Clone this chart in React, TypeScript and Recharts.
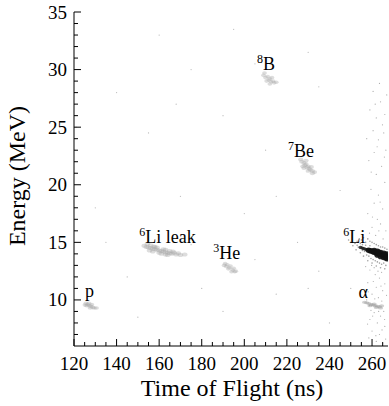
import { ScatterChart, Scatter, XAxis, YAxis } from "recharts";

const FONT = "'Liberation Serif', 'Times New Roman', serif";

// axis ticks (major ones get a label)
const xTicks = [120, 125, 130, 135, 140, 145, 150, 155, 160, 165, 170, 175, 180, 185, 190, 195, 200, 205, 210, 215, 220, 225, 230, 235, 240, 245, 250, 255, 260, 265];
const yTicks = [7, 8, 9, 10, 11, 12, 13, 14, 15, 16, 17, 18, 19, 20, 21, 22, 23, 24, 25, 26, 27, 28, 29, 30, 31, 32, 33, 34, 35];

// clusters, [tof ns, energy MeV]
const protons = [[125.6, 9.7], [126.4, 9.6], [127.2, 9.5], [128, 9.45], [128.8, 9.35], [127, 9.7], [129.5, 9.3], [126, 9.5], [128.3, 9.6], [127.6, 9.3], [130.5, 9.3], [125.2, 9.55]];
const li6Leak = [[153, 14.7], [154, 14.6], [155, 14.55], [156, 14.5], [157, 14.45], [158, 14.4], [159, 14.35], [160, 14.3], [161, 14.25], [162, 14.2], [163, 14.15], [164, 14.1], [165, 14.05], [166, 14.0], [168, 13.95], [170, 13.9], [156, 14.75], [158, 14.6], [160, 14.1], [162, 14.4], [163, 13.95], [165, 14.25], [167, 14.1], [159, 14.55], [155.5, 14.3], [161, 14.0], [157, 14.2], [164, 13.9], [166.5, 14.2], [169, 14.05], [172, 13.95], [154.5, 14.85], [157.5, 14.65], [163, 14.35]];
const he3 = [[190.5, 13.0], [191.5, 12.9], [192, 13.05], [193, 12.8], [193.5, 12.95], [194.5, 12.6], [195, 12.75], [196, 12.5], [192.5, 12.7], [195.5, 12.45], [191, 13.15], [194, 12.45]];
const b8 = [[209, 29.5], [210, 29.3], [211, 29.4], [211.5, 29.1], [212, 29.2], [212.5, 28.95], [213.5, 29.0], [214, 28.85], [210.5, 29.0], [215, 28.9], [212, 28.75], [209.5, 29.7], [213, 29.3]];
const be7 = [[227, 22.0], [228, 21.9], [228.5, 21.7], [229, 21.8], [229.5, 21.5], [230, 21.6], [230.5, 21.4], [231, 21.3], [232, 21.2], [227.5, 21.6], [231.5, 21.55], [233, 21.1], [229, 22.1], [226.5, 22.2], [230, 21.2], [232, 21.0], [228, 21.45]];
const alphas = [[256.5, 9.8], [257.5, 9.75], [258.5, 9.7], [259.5, 9.6], [260.5, 9.55], [261.5, 9.5], [262.5, 9.45], [263.5, 9.4], [259, 9.5], [261, 9.65], [264, 9.3], [262, 9.35], [264.5, 9.5]];
const li6Tip = [[254.6, 14.56], [255.4, 14.5], [256.2, 14.45], [257, 14.4], [257.7, 14.36]];
const li6Core = [[258.4, 14.32], [259.2, 14.27], [260, 14.22], [260.8, 14.16], [261.6, 14.11], [262.4, 14.06], [263.2, 14.0], [264, 13.95], [264.8, 13.9], [265.6, 13.85], [266.4, 13.8], [267.2, 13.75], [261, 14.28], [262.5, 14.22], [264, 14.12], [265.5, 14.05], [267, 13.98], [262.5, 13.9], [264, 13.78], [265.5, 13.68], [267, 13.58], [263, 14.14], [266, 13.94], [266.5, 13.66]];
const li6Halo = [[252, 14.9], [253, 15.1], [253.5, 14.6], [254, 15.3], [254.5, 14.9], [255, 15.2], [255.5, 14.3], [256, 15.4], [256.5, 14.2], [257, 15.0], [257.5, 13.9], [258, 15.3], [258.5, 13.8], [259, 15.1], [259.5, 13.6], [260, 15.0], [260.5, 13.5], [261, 14.9], [261.5, 13.4], [262, 14.8], [262.5, 13.3], [263, 14.7], [263.5, 13.2], [264, 14.6], [264.5, 13.1], [265, 14.6], [265.5, 13.2], [266, 14.5], [266.5, 13.0], [267, 14.4], [250, 15.0], [251, 14.7], [249, 15.2], [253, 14.75], [252.5, 14.35], [254.5, 14.1], [256, 13.8], [258, 13.4], [260, 13.2], [262, 12.95], [264, 12.8], [266, 12.7], [259, 14.7], [257, 14.75], [255.5, 14.8]];
const rightBand = [[259, 26.5], [262, 25.8], [264, 27.2], [260.5, 24.7], [263, 23.9], [265.5, 24.5], [261, 22.8], [258.5, 22.1], [264.5, 21.6], [262, 20.9], [266, 20.2], [259.5, 19.6], [263, 19.1], [261, 18.4], [265, 17.9], [258, 17.5], [262.5, 17.0], [264, 16.6], [260, 16.3], [266.5, 16.0], [259, 12.6], [261.5, 12.2], [263.5, 11.9], [258, 11.5], [262, 11.1], [265, 10.8], [260, 10.5], [263, 10.2], [257.5, 10.0], [261, 8.9], [264, 8.6], [259, 8.3], [262.5, 8.0], [266, 7.7], [260, 7.3], [263.5, 7.0], [258.5, 6.7], [262, 6.4], [265, 6.2], [261, 12.8], [264.5, 12.4], [257, 12.9], [266, 11.4], [259.5, 9.1], [265.5, 9.0], [260.5, 28.1], [263.5, 28.8], [266, 26.1], [257.5, 24.0], [266.5, 23.0], [260.2, 17.2], [263.8, 18.5], [261.7, 15.6], [265.2, 15.3], [258.8, 15.8], [262.8, 12.5], [260.6, 11.6], [264.2, 11.2], [258.2, 10.7], [266.8, 10.4], [261.3, 10.1], [263.1, 9.0], [260.3, 8.6], [265.9, 8.3], [257.9, 7.9], [264.7, 7.4], [261.8, 6.9], [266.4, 6.6], [259.6, 21.1], [265.8, 22.4], [262.4, 23.3], [264.9, 25.2], [261.5, 27.0], [266.9, 27.8], [263.2, 16.0], [259.8, 13.0], [264.6, 9.9], [258.7, 9.5]];
const stray = [[160, 33.0], [195, 33.5], [230, 31.5], [175, 30.0], [140, 28.0], [190, 26.0], [155, 24.5], [210, 23.0], [245, 19.5], [130, 18.0], [170, 19.0], [200, 17.5], [225, 15.0], [145, 12.0], [180, 11.0], [215, 10.5], [235, 12.5], [150, 8.5], [190, 9.0], [240, 8.0], [205, 13.5], [175, 14.8], [135, 15.0], [230, 11.0], [121, 25.0], [215, 19.0], [205, 30.5], [235, 28.5], [168, 27.0], [250, 11.0]];

// particle labels: start of the text, on its baseline
const labelSup = ["8", "7", "6", "3", "6", "", ""];
const labelText = ["B", "Be", "Li leak", "He", "Li", "α", "p"];
const labelX = [206.0, 220.5, 150.7, 185.4, 246.5, 253.6, 125.2];
const labelY = [29.96, 22.43, 14.97, 13.53, 14.97, 10.14, 10.28];

const toPts = (arr: number[][]) => arr.map(([x, y]) => ({ x, y }));
const labels = labelText.map((t, i) => ({ x: labelX[i], y: labelY[i], sup: labelSup[i], text: t }));

const blob = (fill: string, rx: number, ry: number, opacity: number) => (props: any) => (
  <ellipse cx={props.cx} cy={props.cy} rx={rx} ry={ry} fill={fill} opacity={opacity} />
);

function LabelShape(props: any) {
  const { cx, cy, payload } = props;
  return (
    <text x={cx} y={cy} fontFamily={FONT} fontSize={18} fill="#000">
      {payload.sup && (
        <tspan fontSize={12} dy={-7}>
          {payload.sup}
        </tspan>
      )}
      <tspan dy={payload.sup ? 7 : 0}>{payload.text}</tspan>
    </text>
  );
}

function XTick({ x, y, payload }: any) {
  const v = payload.value;
  const major = v % 20 === 0;
  return (
    <g>
      <line x1={x} y1={y} x2={x} y2={y - (major ? 7 : 4)} stroke="#000" />
      {major && (
        <text x={x} y={y + 24} textAnchor="middle" fontFamily={FONT} fontSize={19} fill="#000">
          {v}
        </text>
      )}
    </g>
  );
}

function YTick({ x, y, payload }: any) {
  const v = payload.value;
  const major = v % 5 === 0;
  return (
    <g>
      <line x1={x} y1={y} x2={x + (major ? 7 : 4)} y2={y} stroke="#000" />
      {major && (
        <text x={x - 7} y={y + 6.5} textAnchor="end" fontFamily={FONT} fontSize={19} fill="#000">
          {v}
        </text>
      )}
    </g>
  );
}

export default function App() {
  return (
    <div style={{ position: "absolute", left: 0, top: 0, width: 389, height: 406, background: "#fff" }}>
      <ScatterChart width={389} height={406} margin={{ top: 12, right: 1, left: 0, bottom: 0 }}>
        <XAxis
          type="number"
          dataKey="x"
          domain={[120, 267.5]}
          ticks={xTicks}
          interval={0}
          allowDataOverflow
          tickSize={0}
          tickMargin={0}
          tickLine={false}
          tick={<XTick />}
          height={60}
          axisLine={{ stroke: "#000" }}
        />
        <YAxis
          type="number"
          dataKey="y"
          domain={[6, 35]}
          ticks={yTicks}
          interval={0}
          allowDataOverflow
          tickSize={0}
          tickMargin={0}
          tickLine={false}
          tick={<YTick />}
          width={74}
          axisLine={{ stroke: "#000" }}
        />
        <Scatter data={toPts(stray)} shape={blob("#999", 0.6, 0.6, 0.7)} isAnimationActive={false} />
        <Scatter data={toPts(rightBand)} shape={blob("#999", 0.6, 0.6, 0.8)} isAnimationActive={false} />
        <Scatter data={toPts(li6Halo)} shape={blob("#888", 0.8, 0.8, 0.8)} isAnimationActive={false} />
        <Scatter data={toPts(protons)} shape={blob("#aaa", 2.6, 1.8, 0.4)} isAnimationActive={false} />
        <Scatter data={toPts(li6Leak)} shape={blob("#aaa", 2.8, 2.0, 0.4)} isAnimationActive={false} />
        <Scatter data={toPts(he3)} shape={blob("#aaa", 2.4, 1.8, 0.4)} isAnimationActive={false} />
        <Scatter data={toPts(b8)} shape={blob("#aaa", 2.4, 1.8, 0.4)} isAnimationActive={false} />
        <Scatter data={toPts(be7)} shape={blob("#aaa", 2.6, 1.9, 0.4)} isAnimationActive={false} />
        <Scatter data={toPts(alphas)} shape={blob("#999", 2.6, 1.5, 0.45)} isAnimationActive={false} />
        <Scatter data={toPts(li6Tip)} shape={blob("#222", 2.0, 1.6, 0.85)} isAnimationActive={false} />
        <Scatter data={toPts(li6Core)} shape={blob("#111", 3.0, 2.8, 0.9)} isAnimationActive={false} />
        <Scatter data={labels} shape={<LabelShape />} isAnimationActive={false} />
        <text x={232} y={396} textAnchor="middle" fontFamily={FONT} fontSize={24} fill="#000">
          Time of Flight (ns)
        </text>
        <text
          x={25}
          y={176}
          textAnchor="middle"
          fontFamily={FONT}
          fontSize={24}
          fill="#000"
          transform="rotate(-90, 25, 176)"
        >
          Energy (MeV)
        </text>
      </ScatterChart>
    </div>
  );
}
